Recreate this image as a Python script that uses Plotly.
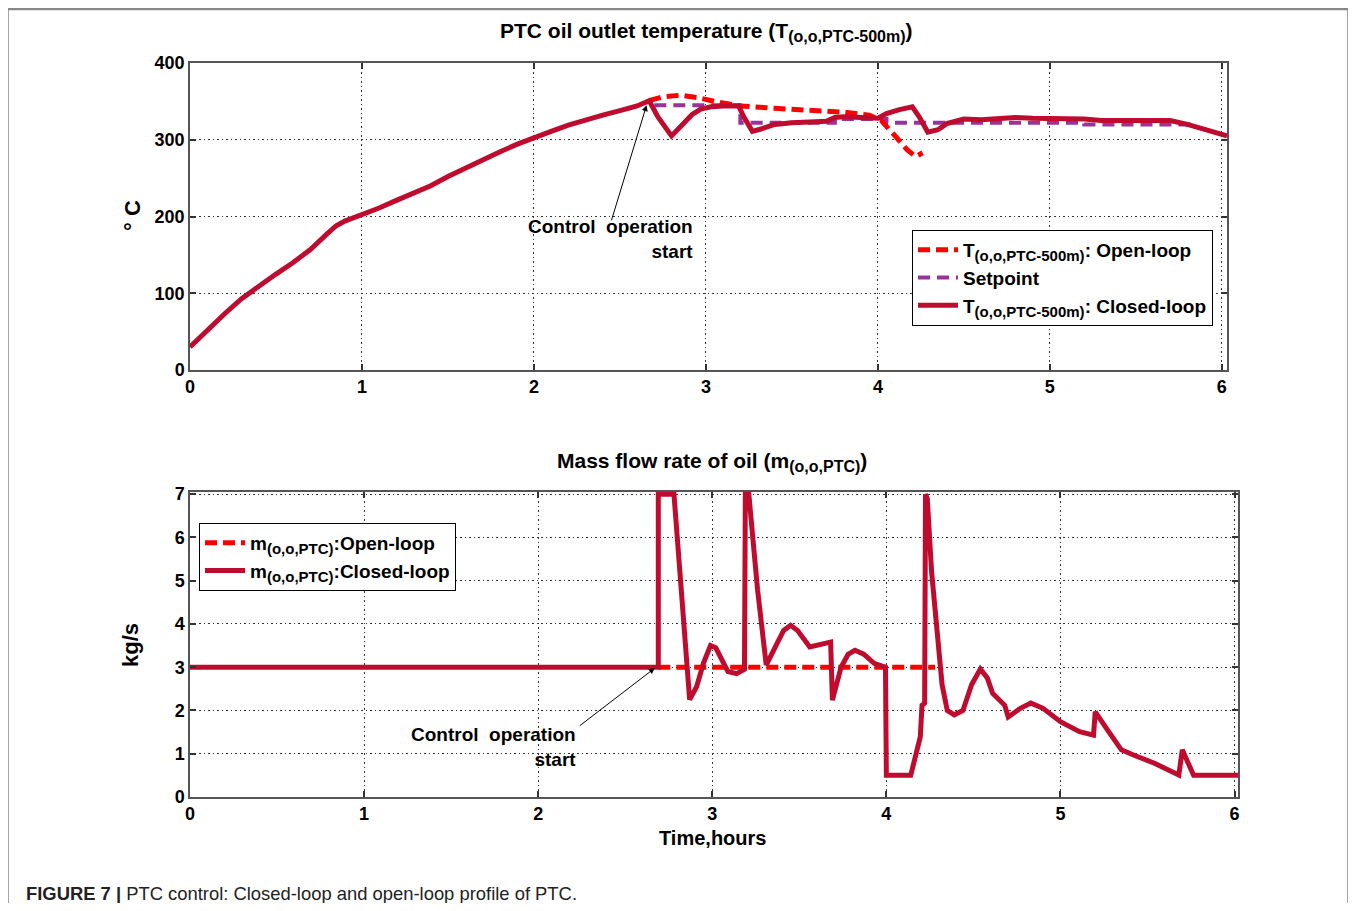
import plotly.graph_objects as go

# ---------------- data ----------------
# Top: PTC oil outlet temperature (deg C) vs time (hours)
t_closed = [0, 0.1, 0.2, 0.3, 0.4, 0.5, 0.6, 0.7, 0.8, 0.85, 0.9, 1.0, 1.1, 1.2, 1.3, 1.4,
            1.5, 1.6, 1.7, 1.8, 1.9, 2.0, 2.1, 2.2, 2.3, 2.4, 2.5, 2.6, 2.67, 2.72, 2.8,
            2.86, 2.92, 2.97, 3.03, 3.1, 3.19, 3.22, 3.27, 3.32, 3.4, 3.5, 3.6, 3.7, 3.75,
            3.8, 3.9, 4.0, 4.05, 4.12, 4.2, 4.24, 4.29, 4.35, 4.4, 4.5, 4.6, 4.7, 4.8, 4.9,
            5.0, 5.1, 5.2, 5.3, 5.4, 5.5, 5.6, 5.7, 5.8, 5.9, 6.03]
T_closed = [30, 52, 73, 93, 110, 125, 140, 157, 178, 188, 194, 202, 211, 221, 230, 240,
            252, 263, 274, 284, 294, 303, 311, 319, 326, 332, 338, 344, 351, 330, 305,
            318, 333, 340, 343, 344, 344, 330, 311, 314, 320, 322, 323, 324, 329,
            330, 329, 328, 334, 339, 343, 330, 310, 313, 321, 327, 326, 327, 329, 328,
            328, 328, 327, 325, 325, 325, 325, 325, 320, 314, 305]

t_open = [2.67, 2.75, 2.85, 2.95, 3.05, 3.2, 3.4, 3.6, 3.8, 3.95, 4.02, 4.1, 4.17, 4.22, 4.26]
T_open = [351, 356, 358, 355, 350, 344, 341, 339, 336, 332, 325, 305, 287, 278, 283]

t_set = [2.7, 3.2, 3.2, 3.75, 3.75, 4.05, 4.05, 5.2, 5.2, 5.85]
T_set = [345, 345, 322, 322, 327, 327, 322, 322, 320, 320]

# Bottom: mass flow rate of oil (kg/s) vs time (hours)
tm_closed = [0, 2.69, 2.69, 2.78, 2.87, 2.91, 2.95, 2.99, 3.02, 3.05, 3.09, 3.14, 3.185,
             3.19, 3.21, 3.26, 3.31, 3.36, 3.41, 3.45, 3.49, 3.56, 3.68, 3.69, 3.74, 3.78,
             3.82, 3.87, 3.93, 3.995, 4.0, 4.14, 4.195, 4.205, 4.22, 4.225, 4.235, 4.26,
             4.32, 4.35, 4.39, 4.44, 4.49, 4.54, 4.58, 4.61, 4.68, 4.70, 4.77, 4.83, 4.90,
             5.0, 5.11, 5.19, 5.20, 5.27, 5.35, 5.42, 5.54, 5.68, 5.70, 5.765, 6.02]
m_closed = [3, 3, 7, 7, 2.25, 2.55, 3.1, 3.5, 3.45, 3.2, 2.9, 2.85, 2.95,
            7, 7, 4.8, 3.05, 3.45, 3.85, 3.97, 3.85, 3.47, 3.58, 2.24, 3.0, 3.3,
            3.39, 3.3, 3.09, 3.0, 0.5, 0.5, 1.39, 2.12, 2.17, 7, 6.9, 5.2,
            2.6, 2.0, 1.9, 2.0, 2.6, 2.96, 2.75, 2.4, 2.12, 1.85, 2.05, 2.17, 2.05,
            1.74, 1.51, 1.43, 1.97, 1.55, 1.09, 0.97, 0.78, 0.51, 1.09, 0.5, 0.5]

tm_open = [2.69, 4.28]
m_open = [3, 3]

x_ticks = [0, 1, 2, 3, 4, 5, 6]
T_ticks = [0, 100, 200, 300, 400]
m_ticks = [0, 1, 2, 3, 4, 5, 6, 7]

# ---------------- styling ----------------
PAGE_MARGIN = 8            # default body margin of the html page
W, H = 1356 - 2 * PAGE_MARGIN, 911 - 2 * PAGE_MARGIN
FONT = "Liberation Sans, Arial, sans-serif"
C_CLOSED = "#BE0B2E"
C_OPEN = "#FF0000"
C_SET = "#993399"


def px(x):
    return (x - PAGE_MARGIN) / W


def py(y):
    return 1 - (y - PAGE_MARGIN) / H


def sub(s, size):
    return f"<sub><span style='font-size:{size}px'>{s}</span></sub>"


fig = go.Figure()

fig.add_trace(go.Scatter(x=t_set, y=T_set, mode="lines", name="Setpoint",
                         line=dict(color=C_SET, width=4, dash="12px,7px"),
                         xaxis="x", yaxis="y", legend="legend", legendrank=2))
fig.add_trace(go.Scatter(x=t_open, y=T_open, mode="lines",
                         name="T" + sub("(o,o,PTC-500m)", 15) + ": Open-loop",
                         line=dict(color=C_OPEN, width=5, dash="12px,6px"),
                         xaxis="x", yaxis="y", legend="legend", legendrank=1))
fig.add_trace(go.Scatter(x=t_closed, y=T_closed, mode="lines",
                         name="T" + sub("(o,o,PTC-500m)", 15) + ": Closed-loop",
                         line=dict(color=C_CLOSED, width=5),
                         xaxis="x", yaxis="y", legend="legend", legendrank=3))

fig.add_trace(go.Scatter(x=tm_open, y=m_open, mode="lines",
                         name="m" + sub("(o,o,PTC)", 15) + ":Open-loop",
                         line=dict(color=C_OPEN, width=5, dash="12px,6px"),
                         xaxis="x2", yaxis="y2", legend="legend2", legendrank=1))
fig.add_trace(go.Scatter(x=tm_closed, y=m_closed, mode="lines",
                         name="m" + sub("(o,o,PTC)", 15) + ":Closed-loop",
                         line=dict(color=C_CLOSED, width=5),
                         xaxis="x2", yaxis="y2", legend="legend2", legendrank=2))

axis_common = dict(showline=True, linecolor="#555555", linewidth=1.5, mirror="ticks",
                   ticks="inside", ticklen=6, tickcolor="#333333", tickwidth=1.5,
                   showgrid=True, gridcolor="#333333", griddash="1.5px,3px", gridwidth=1,
                   zeroline=False, automargin=False,
                   tickfont=dict(family=FONT, size=18, color="black", weight="bold"))

legend_font = dict(family=FONT, size=19, color="black", weight="bold")

fig.update_layout(
    width=W, height=H,
    margin=dict(l=0, r=0, t=0, b=0, autoexpand=False),
    paper_bgcolor="white", plot_bgcolor="white",
    showlegend=True,
    xaxis=dict(domain=[px(190), px(1227)], range=[0, 6.03], tickvals=x_ticks,
               anchor="y", **axis_common),
    yaxis=dict(domain=[py(370), py(63)], range=[0, 400], tickvals=T_ticks,
               anchor="x", **axis_common),
    xaxis2=dict(domain=[px(190), px(1238)], range=[0, 6.02], tickvals=x_ticks,
                anchor="y2", **axis_common),
    yaxis2=dict(domain=[py(797), py(492)], range=[0, 7.05], tickvals=m_ticks,
                anchor="x2", **axis_common),
    legend=dict(x=px(912), y=py(230), xanchor="left", yanchor="top",
                bgcolor="white", bordercolor="black", borderwidth=1,
                font=legend_font, itemwidth=40, tracegroupgap=0, traceorder="normal"),
    legend2=dict(x=px(199), y=py(523), xanchor="left", yanchor="top",
                 bgcolor="white", bordercolor="black", borderwidth=1,
                 font=legend_font, itemwidth=40, tracegroupgap=0, traceorder="normal"),
)

title_font = dict(family=FONT, size=21, color="black", weight="bold")
note_font = dict(family=FONT, size=19, color="black", weight="bold")
ann = []
# titles
ann.append(dict(x=px(706), y=py(17), xref="paper", yref="paper", xanchor="center",
                yanchor="top", showarrow=False,
                text="PTC oil outlet temperature (T" + sub("(o,o,PTC-500m)", 16) + ")",
                font=title_font))
ann.append(dict(x=px(712), y=py(447), xref="paper", yref="paper", xanchor="center",
                yanchor="top", showarrow=False,
                text="Mass flow rate of oil (m" + sub("(o,o,PTC)", 16) + ")",
                font=title_font))
# axis titles
ann.append(dict(x=px(133), y=py(216), xref="paper", yref="paper", showarrow=False,
                xanchor="center", yanchor="middle",
                text="° C", textangle=-90,
                font=dict(family=FONT, size=22, color="black", weight="bold")))
ann.append(dict(x=px(130), y=py(645), xref="paper", yref="paper", showarrow=False,
                xanchor="center", yanchor="middle",
                text="kg/s", textangle=-90,
                font=dict(family=FONT, size=22, color="black", weight="bold")))
ann.append(dict(x=px(712), y=py(838), xref="paper", yref="paper", showarrow=False,
                xanchor="center", yanchor="middle",
                text="Time,hours",
                font=dict(family=FONT, size=20, color="black", weight="bold")))
# arrows
ann.append(dict(x=2.655, y=345, xref="x", yref="y", ax=2.448, ay=193, axref="x",
                ayref="y", text="", showarrow=True, arrowhead=2, arrowsize=1.2,
                arrowwidth=1, arrowcolor="black"))
ann.append(dict(x=2.67, y=2.98, xref="x2", yref="y2", ax=2.23, ay=1.62, axref="x2",
                ayref="y2", text="", showarrow=True, arrowhead=2, arrowsize=1.2,
                arrowwidth=1, arrowcolor="black"))
# annotation texts
ann.append(dict(x=px(695), y=py(239), xref="paper", yref="paper", xanchor="right",
                yanchor="middle", align="right", showarrow=False,
                text="Control  operation<br>start", font=note_font))
ann.append(dict(x=px(578), y=py(747), xref="paper", yref="paper", xanchor="right",
                yanchor="middle", align="right", showarrow=False,
                text="Control  operation<br>start", font=note_font))
# caption
ann.append(dict(x=px(24), y=py(893), xref="paper", yref="paper", xanchor="left",
                yanchor="middle", showarrow=False,
                text="<b>FIGURE 7 |</b> PTC control: Closed-loop and open-loop profile of PTC.",
                font=dict(family=FONT, size=18.4, color="#222222")))
fig.update_layout(annotations=ann)

# outer figure frame
fig.add_shape(type="rect", xref="paper", yref="paper", x0=px(8), x1=px(1348),
              y0=py(930), y1=py(9), line=dict(color="#888888", width=1.5),
              fillcolor="rgba(0,0,0,0)", layer="below")
fig.add_shape(type="line", xref="paper", yref="paper", x0=px(8), x1=px(1348),
              y0=py(9), y1=py(9), line=dict(color="#888888", width=2.5),
              layer="below")

fig.write_html("out.html", config={"displayModeBar": False})
